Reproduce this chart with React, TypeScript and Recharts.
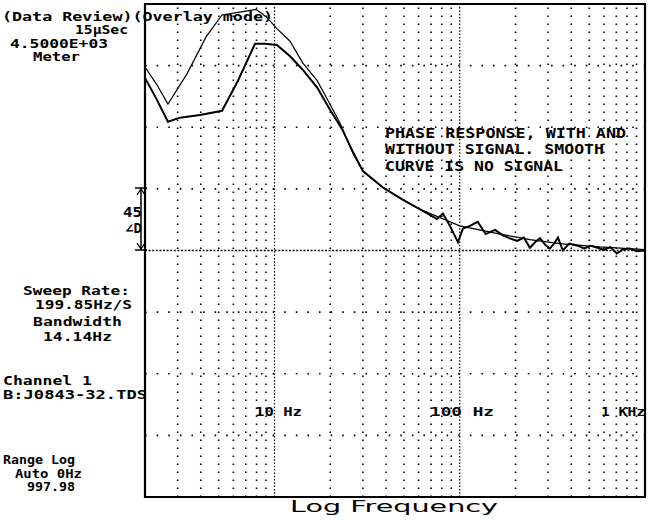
import React from "react";
import { LineChart, Line, XAxis, YAxis, ReferenceLine, ReferenceArea } from "recharts";

// smooth trace (no signal)
const freqA = [2.0, 2.32, 2.66, 3.37, 4.27, 5.21, 6.51, 7.94, 8.56, 9.11, 10.3, 12.1, 14.2, 17.0, 19.9, 22.6, 26.5, 30.0, 38.5, 49.4, 61.0, 78.2, 100, 128, 165, 239, 347, 571, 1000];
const phaseA = [134, 121, 107, 129, 156, 172, 174, 176, 173, 170, 162, 153, 137, 124, 107, 93, 71, 58, 46, 37, 30, 24, 18, 15, 12, 8, 5, 2.6, 0.7];

// trace with signal
const freqB = [2.0, 2.32, 2.66, 3.09, 3.96, 5.21, 6.35, 7.85, 8.89, 10.3, 12.1, 14.2, 17.0, 19.9, 23.1, 26.5, 30.0, 38.5, 49.4, 55.9, 63.3, 75.3, 81.1, 88.5, 97.8, 104, 113.5, 125, 138, 155, 171, 185, 204, 222, 239, 255, 271, 290, 307, 323, 339, 360, 390, 429, 470, 510, 550, 600, 650, 705, 760, 829, 900, 1000];
const phaseB = [126, 110, 94, 97, 99, 102, 124, 151, 151, 150, 142, 132, 119, 103, 89, 72, 58, 46, 37, 33, 29, 23, 27, 18, 6, 16, 18, 21, 12, 15, 11, 9, 7, 9.5, 2, 6, 9, 4, 1.5, 5, 9.5, 0, 5, 3.7, 1.5, 3.5, 2.2, 0.5, 2.5, -2.2, 0.8, 1.5, -0.5, 0];

const minorFreqs = [3, 4, 5, 6, 7, 8, 9, 20, 30, 40, 50, 60, 70, 80, 90, 200, 300, 400, 500, 600, 700, 800, 900];
const decadeFreqs = [10, 100];
const phaseLines = [-135, -90, -45, 45, 90, 135];

const rowsA = freqA.map((f, i) => ({ f, phase: phaseA[i] }));
const rowsB = freqB.map((f, i) => ({ f, phase: phaseB[i] }));

const mono = "'DejaVu Sans Mono', monospace";

// [text, x, baseline, width, fontSize]
const notes: [string, number, number, number, number][] = [
  ["(Data Review)(Overlay mode)", 2, 21, 271, 12.5],
  ["15µSec", 75, 34, 53, 11.5],
  ["4.5000E+03", 10, 47.5, 98, 11.5],
  ["Meter", 33, 61, 47, 11.5],
  ["Sweep Rate:", 23, 294.5, 107, 12],
  ["199.85Hz/S", 35, 308.5, 97, 12],
  ["Bandwidth", 33, 326, 89, 12],
  ["14.14Hz", 43, 341, 69, 12],
  ["Channel 1", 3, 384.5, 89, 12],
  ["B:J0843-32.TDS", 3, 398.5, 144, 12],
  ["Range Log", 3, 464, 72, 11.5],
  ["Auto 0Hz", 15, 477.5, 67, 11.5],
  ["997.98", 27, 491, 48, 11.5],
  ["10 Hz", 255, 415.5, 47, 13],
  ["100 Hz", 430, 415.5, 64, 13],
  ["1 KHz", 601, 415.5, 44, 13],
  ["PHASE RESPONSE, WITH AND", 385, 137.5, 241, 14],
  ["WITHOUT SIGNAL. SMOOTH", 385, 154, 219, 14],
  ["CURVE IS NO SIGNAL", 385, 170.5, 178, 14],
  ["45", 123, 217, 19, 13.5],
  ["∠D", 125, 233, 17, 13.5],
];

function Notes() {
  return (
    <svg width={648} height={520} style={{ position: "absolute", left: 0, top: 0, pointerEvents: "none" }}>
      {notes.map(([t, x, y, w, fs]) => (
        <text key={t} x={x} y={y} textLength={w} lengthAdjust="spacingAndGlyphs" fontFamily={mono} fontSize={fs} fontWeight="bold" fill="#000">{t}</text>
      ))}
      <text x={290} y={512} textLength={208} lengthAdjust="spacingAndGlyphs" fontFamily="'DejaVu Sans', sans-serif" fontSize={16} fill="#000">Log Frequency</text>
      {/* 45 deg/div bracket */}
      <line x1={141} y1={188} x2={141} y2={250} stroke="#000" strokeWidth={1.5} />
      <line x1={135} y1={188} x2={147} y2={188} stroke="#000" strokeWidth={1.5} />
      <line x1={135} y1={250} x2={147} y2={250} stroke="#000" strokeWidth={1.5} />
      <path d="M137 195 L141 189 L145 195" fill="none" stroke="#000" strokeWidth={1.3} />
      <path d="M137 243 L141 249 L145 243" fill="none" stroke="#000" strokeWidth={1.3} />
    </svg>
  );
}

export default function App() {
  return (
    <div style={{ position: "absolute", left: 0, top: 0, width: 648, height: 520, background: "#fff" }}>
      <LineChart width={648} height={520} margin={{ top: 4, right: 3, bottom: 23, left: 145 }}>
        <XAxis dataKey="f" type="number" scale="log" domain={[2, 1000]} allowDataOverflow hide />
        <YAxis type="number" domain={[-180, 180]} allowDataOverflow hide />
        {minorFreqs.map((f) => (
          <ReferenceLine key={f} x={f} stroke="#000" strokeWidth={1.6} strokeDasharray="1.6 6.4" />
        ))}
        {decadeFreqs.map((f) => (
          <ReferenceLine key={f} x={f} stroke="#000" strokeWidth={1.2} strokeDasharray="1.5 1.8" />
        ))}
        {phaseLines.map((p) => (
          <ReferenceLine key={p} y={p} stroke="#000" strokeWidth={1.6} strokeDasharray="1.6 10" />
        ))}
        <ReferenceLine y={0} stroke="#000" strokeWidth={1.3} strokeDasharray="2 1.6" />
        <ReferenceArea x1={2} x2={1000} y1={-180} y2={180} fill="none" stroke="#000" strokeWidth={2.2} fillOpacity={0} />
        <Line data={rowsA} dataKey="phase" type="linear" stroke="#000" strokeWidth={1.2} dot={false} isAnimationActive={false} />
        <Line data={rowsB} dataKey="phase" type="linear" stroke="#000" strokeWidth={2} dot={false} isAnimationActive={false} />
      </LineChart>
      <Notes />
    </div>
  );
}
